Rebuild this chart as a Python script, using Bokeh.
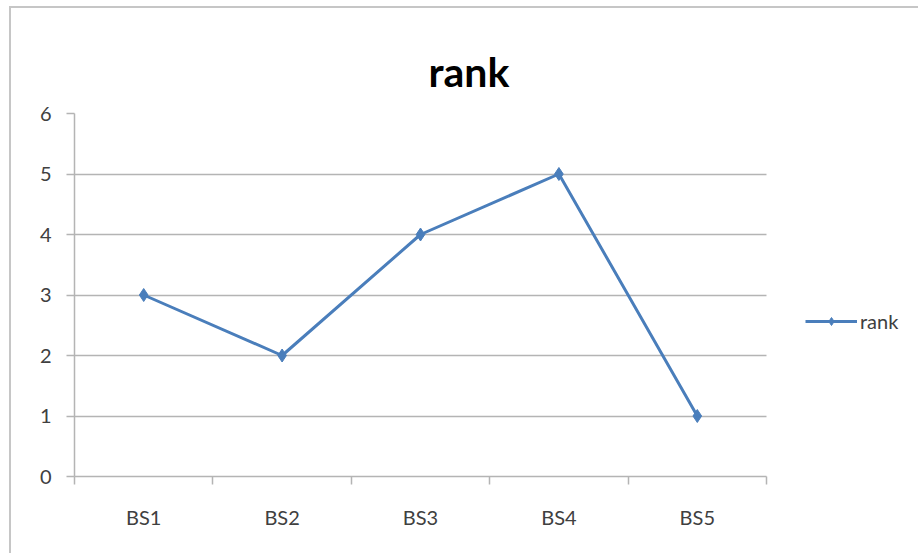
from bokeh.plotting import figure
from bokeh.models import Range1d, FixedTicker, Legend, LegendItem
from bokeh.embed import file_html
from bokeh.resources import INLINE

# Chart data
categories = ["BS1", "BS2", "BS3", "BS4", "BS5"]
rank = [3, 2, 4, 5, 1]
y_ticks = [0, 1, 2, 3, 4, 5, 6]

# Category slots: each category occupies one unit; marks sit at slot centres
n = len(categories)
centers = [i + 0.5 for i in range(n)]
boundaries = list(range(n + 1))

LINE_COLOR = "#4A7EBB"
GRID_COLOR = "#b4b4b4"
TEXT_COLOR = "#404040"
FONT = "Lato"

# Layout: the frame runs to the right edge so the legend can sit inside it;
# the plotting area itself stops at slot n (axis / grid bounds).
W, H = 909, 547
LEFT, TOP, BOTTOM = 63, 105, 79
PLOT_W = 692
frame_w = W - LEFT
x_end = n * frame_w / PLOT_W

p = figure(
    width=W, height=H,
    output_backend="svg", toolbar_location=None,
    x_range=Range1d(0, x_end), y_range=Range1d(0, 6),
    min_border_left=LEFT, min_border_right=0,
    min_border_top=TOP, min_border_bottom=BOTTOM,
)
p.styles = {
    "margin-left": "9px", "margin-top": "6px",
    "border-left": "2px solid #c6c6c6", "border-top": "2px solid #c6c6c6",
}
p.outline_line_color = None
p.background_fill_color = "white"
p.border_fill_color = "white"

# Title
p.title.text = "rank"
p.title.align = "left"
p.title.offset = 354
p.title.standoff = 36
p.title.text_font = FONT
p.title.text_font_size = "41px"
p.title.text_font_style = "bold"
p.title.text_color = "black"

# X axis: labels at slot centres, tick marks at slot boundaries
xa = p.xaxis[0]
xa.bounds = (0, n)
xa.ticker = FixedTicker(ticks=centers, minor_ticks=boundaries)
xa.major_label_overrides = {c: lab for c, lab in zip(centers, categories)}
xa.major_tick_in = 0
xa.major_tick_out = 0
xa.minor_tick_in = 0
xa.minor_tick_out = 8
xa.minor_tick_line_color = GRID_COLOR
xa.minor_tick_line_width = 1.5
xa.axis_line_color = GRID_COLOR
xa.axis_line_width = 1.5
xa.major_label_text_font = FONT
xa.major_label_text_font_size = "20px"
xa.major_label_text_color = TEXT_COLOR
xa.major_label_standoff = 20

# Y axis
ya = p.yaxis[0]
ya.ticker = FixedTicker(ticks=y_ticks)
ya.major_tick_in = 0
ya.major_tick_out = 8
ya.major_tick_line_color = GRID_COLOR
ya.major_tick_line_width = 1.5
ya.minor_tick_line_color = None
ya.axis_line_color = GRID_COLOR
ya.axis_line_width = 1.5
ya.major_label_text_font = FONT
ya.major_label_text_font_size = "20px"
ya.major_label_text_color = TEXT_COLOR
ya.major_label_standoff = 15

# Grid
p.xgrid.grid_line_color = None
p.ygrid.ticker = FixedTicker(ticks=y_ticks[1:])
p.ygrid.cross_bounds = (0, n)
p.ygrid.grid_line_color = GRID_COLOR
p.ygrid.grid_line_width = 1.5

# Series
ln = p.line(centers, rank, line_color=LINE_COLOR, line_width=3)
pts = p.scatter(centers, rank, marker="diamond", size=13,
                fill_color=LINE_COLOR, line_color=LINE_COLOR)

legend = Legend(
    items=[LegendItem(label="rank", renderers=[ln, pts])],
    location=(731, 143),
    padding=0, margin=0, spacing=0,
    glyph_width=52, glyph_height=20, label_height=20,
    label_standoff=3,
    label_text_font=FONT, label_text_font_size="20px",
    label_text_color=TEXT_COLOR,
    border_line_color=None, background_fill_alpha=0,
)
p.add_layout(legend)

open("out.html", "w").write(file_html(p, INLINE))
